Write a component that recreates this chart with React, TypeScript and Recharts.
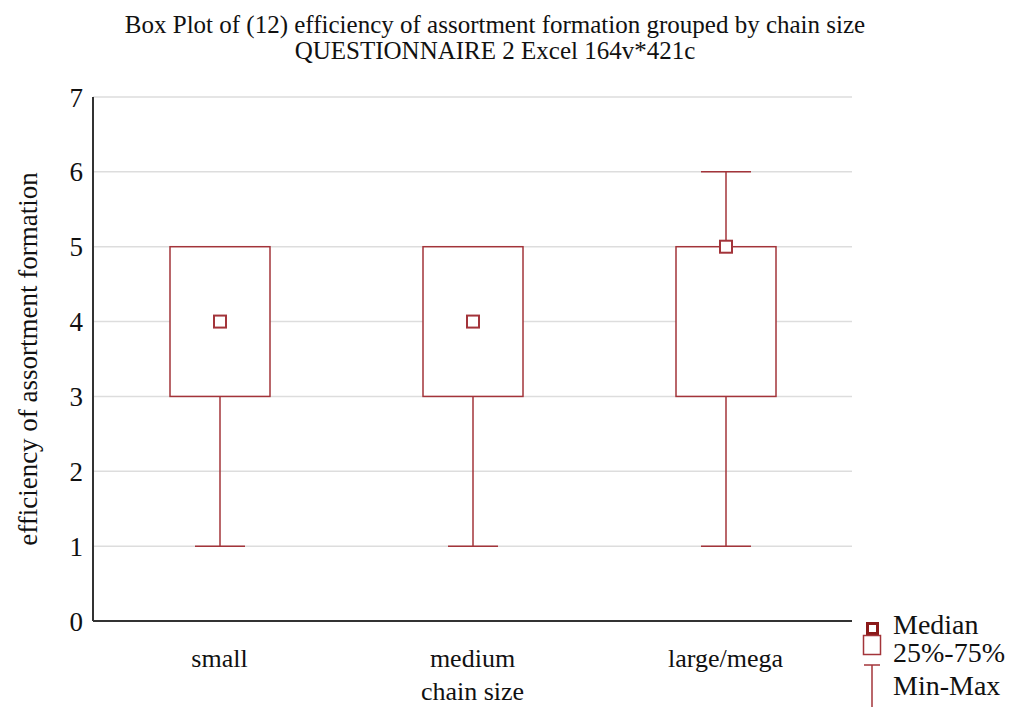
import { ComposedChart, Bar, XAxis, YAxis, CartesianGrid, Label } from 'recharts';

const categories = ['small', 'medium', 'large/mega'];
const minValues = [1, 1, 1];
const q1Values = [3, 3, 3];
const medianValues = [4, 4, 5];
const q3Values = [5, 5, 5];
const maxValues = [5, 5, 6];
const yTicks = [0, 1, 2, 3, 4, 5, 6, 7];
const legendLabels = ['Median', '25%-75%', 'Min-Max'];

const BOX_COLOR = '#a3343a';
const AXIS_COLOR = '#333333';
const FONT = '"Liberation Serif", "Times New Roman", serif';

const data = categories.map((name, i) => ({
  name,
  min: minValues[i],
  q1: q1Values[i],
  median: medianValues[i],
  q3: q3Values[i],
  max: maxValues[i],
}));

function BoxShape(props: any) {
  const { x, y, width, height, payload } = props;
  const top = Math.min(y, y + height);
  const bottom = Math.max(y, y + height);
  const unit = (bottom - top) / (payload.max - payload.min);
  const toY = (v: number) => top + (payload.max - v) * unit;
  const cx = x + width / 2;
  const cap = width / 2;
  const m = 6;
  return (
    <g>
      <line x1={cx} x2={cx} y1={toY(payload.min)} y2={toY(payload.q1)} stroke={BOX_COLOR} strokeWidth={1.5} />
      <line x1={cx - cap / 2} x2={cx + cap / 2} y1={toY(payload.min)} y2={toY(payload.min)} stroke={BOX_COLOR} strokeWidth={1.5} />
      {payload.max > payload.q3 && (
        <>
          <line x1={cx} x2={cx} y1={toY(payload.q3)} y2={toY(payload.max)} stroke={BOX_COLOR} strokeWidth={1.5} />
          <line x1={cx - cap / 2} x2={cx + cap / 2} y1={toY(payload.max)} y2={toY(payload.max)} stroke={BOX_COLOR} strokeWidth={1.5} />
        </>
      )}
      <rect
        x={x}
        y={toY(payload.q3)}
        width={width}
        height={toY(payload.q1) - toY(payload.q3)}
        fill="#ffffff"
        stroke={BOX_COLOR}
        strokeWidth={1.5}
      />
      <rect x={cx - m} y={toY(payload.median) - m} width={m * 2} height={m * 2} fill="#ffffff" stroke={BOX_COLOR} strokeWidth={2} />
    </g>
  );
}

// legend rows: icon + text, vertical centres
const legendRows = [625, 653, 686];

function LegendIcon({ kind }: { kind: number }) {
  if (kind === 0) {
    return (
      <svg width={20} height={20} style={{ position: 'absolute', left: 862, top: 618 }}>
        <rect x={5.5} y={5.5} width={10} height={10} fill="none" stroke="#8b1a1a" strokeWidth={3} />
      </svg>
    );
  }
  if (kind === 1) {
    return (
      <svg width={20} height={22} style={{ position: 'absolute', left: 862, top: 634 }}>
        <rect x={1.5} y={1.5} width={17} height={19} fill="none" stroke={BOX_COLOR} strokeWidth={1.5} />
      </svg>
    );
  }
  return (
    <svg width={20} height={44} style={{ position: 'absolute', left: 862, top: 664 }}>
      <line x1={2} x2={18} y1={1} y2={1} stroke={BOX_COLOR} strokeWidth={1.5} />
      <line x1={10} x2={10} y1={1} y2={44} stroke={BOX_COLOR} strokeWidth={1.5} />
    </svg>
  );
}

function LegendBox() {
  return (
    <>
      {legendLabels.map((label, i) => (
        <div key={label}>
          <LegendIcon kind={i} />
          <div
            style={{
              position: 'absolute',
              left: 893,
              top: legendRows[i] - 15,
              fontFamily: FONT,
              fontSize: 28,
              lineHeight: '30px',
              color: '#111',
              whiteSpace: 'nowrap',
            }}
          >
            {label}
          </div>
        </div>
      ))}
    </>
  );
}

export default function App() {
  return (
    <div style={{ position: 'absolute', left: 0, top: 0, width: 1015, height: 707, background: '#fff', overflow: 'hidden' }}>
      <div
        style={{
          position: 'absolute',
          left: 0,
          top: 12,
          width: 990,
          textAlign: 'center',
          fontFamily: FONT,
          fontSize: 25,
          lineHeight: '26px',
          color: '#111',
        }}
      >
        <div>Box Plot of (12) efficiency of assortment formation grouped by chain size</div>
        <div>QUESTIONNAIRE 2 Excel 164v*421c</div>
      </div>
      <ComposedChart
        width={1015}
        height={707}
        data={data}
        margin={{ top: 97, right: 163, bottom: 6, left: 0 }}
      >
        <CartesianGrid horizontal vertical={false} stroke="#dddddd" strokeWidth={1.5} />
        <XAxis
          dataKey="name"
          height={80}
          tickLine={false}
          tickSize={0}
          tickMargin={28}
          stroke={AXIS_COLOR}
          strokeWidth={2}
          tick={{ fontFamily: FONT, fontSize: 26, fill: '#111' }}
        >
          <Label value="chain size" position="insideBottom" offset={1} style={{ fontFamily: FONT, fontSize: 26, fill: '#111' }} />
        </XAxis>
        <XAxis xAxisId="bottomTicks" dataKey="name" height={0} mirror tickSize={5} tickFormatter={() => ''} axisLine={false} tickLine={{ stroke: AXIS_COLOR, strokeWidth: 2 }} />
        <XAxis xAxisId="top" dataKey="name" orientation="top" height={0} mirror tickSize={5} tickFormatter={() => ''} stroke={AXIS_COLOR} strokeWidth={2} tickLine={{ stroke: AXIS_COLOR, strokeWidth: 2 }} />
        <YAxis
          domain={[0, 7]}
          ticks={yTicks}
          width={93}
          tickLine={false}
          tickSize={0}
          tickMargin={10}
          stroke={AXIS_COLOR}
          strokeWidth={2}
          tick={{ fontFamily: FONT, fontSize: 27, fill: '#111' }}
        >
          <Label
            value="efficiency of assortment formation"
            angle={-90}
            position="insideLeft"
            offset={27}
            style={{ textAnchor: 'middle', fontFamily: FONT, fontSize: 27, fill: '#111' }}
          />
        </YAxis>
        <YAxis yAxisId="leftTicks" domain={[0, 7]} ticks={yTicks} width={0} mirror tickSize={5} tickFormatter={() => ''} axisLine={false} tickLine={{ stroke: AXIS_COLOR, strokeWidth: 2 }} />
        <YAxis yAxisId="right" orientation="right" domain={[0, 7]} ticks={yTicks} width={0} mirror tickSize={5} tickFormatter={() => ''} stroke={AXIS_COLOR} strokeWidth={2} tickLine={{ stroke: AXIS_COLOR, strokeWidth: 2 }} />
        <Bar
          dataKey={(d: any) => [d.min, d.max]}
          barSize={100}
          shape={BoxShape}
          isAnimationActive={false}
        />
      </ComposedChart>
      <LegendBox />
    </div>
  );
}
